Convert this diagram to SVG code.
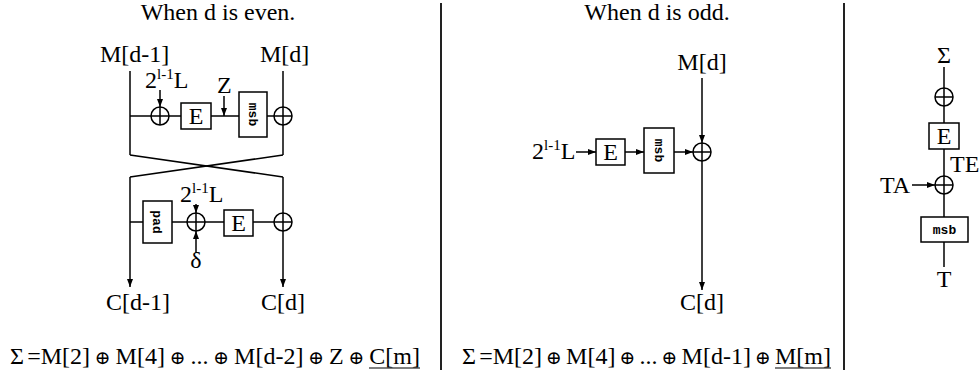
<svg xmlns="http://www.w3.org/2000/svg" width="980" height="377" viewBox="0 0 980 377">
<style>
text{font-family:"Liberation Serif","Times New Roman",serif;font-size:24px;fill:#000}
.sup{font-size:15px}
.op{font-family:"DejaVu Serif","DejaVu Sans",serif;font-size:19px}
.mono{font-family:"Liberation Mono","Courier New",monospace;font-size:13px;font-weight:bold}
.ln{stroke:#000;stroke-width:1.5;fill:none}
.ar{stroke:#000;stroke-width:1.5;fill:none;marker-end:url(#ah)}
.box{fill:#fff;stroke:#000;stroke-width:1.5}
.xc{fill:#fff;stroke:#000;stroke-width:1.5}
.sep{stroke:#222;stroke-width:2}
</style>
<defs>
<marker id="ah" markerWidth="8" markerHeight="6" refX="8" refY="3" orient="auto" markerUnits="userSpaceOnUse">
<path d="M0,0 L8,3 L0,6 z" fill="#000"/>
</marker>
<g id="xor">
<circle cx="0" cy="0" r="9" class="xc"/>
<path d="M-9,0 H9 M0,-9 V9" stroke="#000" stroke-width="1.5"/>
</g>
</defs>
<rect width="980" height="377" fill="#fff"/>

<g id="separators">
<line x1="441" y1="3" x2="441" y2="370" class="sep"/>
<line x1="844" y1="3" x2="844" y2="370" class="sep"/>
</g>

<g id="connectors">
<line x1="130" y1="71" x2="130" y2="155" class="ln"/>
<line x1="283" y1="71" x2="283" y2="155" class="ln"/>
<line x1="130" y1="116" x2="283" y2="116" class="ln"/>
<line x1="160" y1="90" x2="160" y2="107" class="ar"/>
<line x1="224" y1="96" x2="224" y2="116" class="ar"/>
<line x1="130" y1="155" x2="283" y2="177" class="ln"/>
<line x1="283" y1="155" x2="130" y2="177" class="ln"/>
<line x1="130" y1="177" x2="130" y2="287" class="ar"/>
<line x1="283" y1="177" x2="283" y2="287" class="ar"/>
<line x1="130" y1="222" x2="283" y2="222" class="ln"/>
<line x1="196" y1="204" x2="196" y2="213" class="ar"/>
<line x1="196" y1="253" x2="196" y2="231" class="ar"/>
<line x1="702" y1="78" x2="702" y2="143" class="ar"/>
<line x1="702" y1="143" x2="702" y2="290" class="ar"/>
<line x1="576" y1="152" x2="596" y2="152" class="ar"/>
<line x1="625" y1="152" x2="644" y2="152" class="ar"/>
<line x1="674" y1="152" x2="693" y2="152" class="ar"/>
<line x1="944" y1="67" x2="944" y2="267" class="ln"/>
<line x1="912" y1="185" x2="935" y2="185" class="ar"/>
</g>

<g id="left-panel">
<text x="218" y="20" text-anchor="middle">When d is even.</text>
<text x="100" y="62">M[d-1]</text>
<text x="260" y="62">M[d]</text>
<g id="xor-l1"><use href="#xor" x="160" y="116"/></g>
<text id="lbl-l1" x="145" y="88">2<tspan class="sup" dy="-9">l-1</tspan><tspan dy="9">L</tspan></text>
<g id="E-l1"><rect x="181" y="103" width="30" height="26" class="box"/><text x="196" y="124" text-anchor="middle">E</text></g>
<text x="217" y="93">Z</text>
<g id="msb-l1"><rect x="239" y="92" width="28" height="45" class="box"/><text class="mono" transform="translate(253,114.5) rotate(90)" text-anchor="middle" dy="4.5">msb</text></g>
<g id="xor-l2"><use href="#xor" x="283" y="116"/></g>
<g id="pad-l"><rect x="143" y="201" width="29" height="42" class="box"/><text class="mono" transform="translate(157.5,222) rotate(90)" text-anchor="middle" dy="4.5">pad</text></g>
<g id="xor-l3"><use href="#xor" x="196" y="222"/></g>
<text id="lbl-l2" x="180" y="202">2<tspan class="sup" dy="-9">l-1</tspan><tspan dy="9">L</tspan></text>
<text x="196" y="268" text-anchor="middle">δ</text>
<g id="E-l2"><rect x="224" y="210" width="29" height="26" class="box"/><text x="238.5" y="231" text-anchor="middle">E</text></g>
<g id="xor-l4"><use href="#xor" x="283" y="222"/></g>
<text x="106" y="310">C[d-1]</text>
<text x="283" y="310" text-anchor="middle">C[d]</text>
<text id="formula-even" y="364"><tspan x="10">Σ</tspan><tspan x="27.2">=M[2]</tspan><tspan class="op" x="102.8" text-anchor="middle">⊕</tspan><tspan x="115.6">M[4]</tspan><tspan class="op" x="177.7" text-anchor="middle">⊕</tspan><tspan x="190.5">...</tspan><tspan class="op" x="221.3" text-anchor="middle">⊕</tspan><tspan x="234.1">M[d-2]</tspan><tspan class="op" x="316.2" text-anchor="middle">⊕</tspan><tspan x="329">Z</tspan><tspan class="op" x="356.5" text-anchor="middle">⊕</tspan><tspan x="369.3">C[m]</tspan></text>
<line x1="369" y1="368" x2="420" y2="368" stroke="#000" stroke-width="1.2"/>
</g>

<g id="middle-panel">
<text x="657" y="20" text-anchor="middle">When d is odd.</text>
<text x="702" y="70" text-anchor="middle">M[d]</text>
<text id="lbl-m" x="532" y="159">2<tspan class="sup" dy="-9">l-1</tspan><tspan dy="9">L</tspan></text>
<g id="E-m"><rect x="596" y="139" width="29" height="26" class="box"/><text x="610.5" y="160" text-anchor="middle">E</text></g>
<g id="msb-m"><rect x="644" y="128" width="30" height="45" class="box"/><text class="mono" transform="translate(659,150.5) rotate(90)" text-anchor="middle" dy="4.5">msb</text></g>
<g id="xor-m"><use href="#xor" x="702" y="152"/></g>
<text x="702" y="310" text-anchor="middle">C[d]</text>
<text id="formula-odd" y="364"><tspan x="462">Σ</tspan><tspan x="479.2">=M[2]</tspan><tspan class="op" x="554" text-anchor="middle">⊕</tspan><tspan x="566.1">M[4]</tspan><tspan class="op" x="627.5" text-anchor="middle">⊕</tspan><tspan x="639.5">...</tspan><tspan class="op" x="669.5" text-anchor="middle">⊕</tspan><tspan x="681.6">M[d-1]</tspan><tspan class="op" x="763" text-anchor="middle">⊕</tspan><tspan x="775">M[m]</tspan></text>
<line x1="775" y1="368" x2="831" y2="368" stroke="#000" stroke-width="1.2"/>
</g>

<g id="right-panel">
<text x="944" y="63" text-anchor="middle">Σ</text>
<g id="xor-r1"><use href="#xor" x="944" y="97"/></g>
<g id="E-r"><rect x="929" y="123" width="30" height="26" class="box"/><text x="944" y="144" text-anchor="middle">E</text></g>
<text x="950" y="172">TE</text>
<g id="xor-r2"><use href="#xor" x="944" y="185"/></g>
<text x="880" y="193">TA</text>
<g id="msb-r"><rect x="921" y="217" width="47" height="25" class="box"/><text class="mono" x="944.5" y="234" text-anchor="middle">msb</text></g>
<text x="944" y="287" text-anchor="middle">T</text>
</g>
</svg>
